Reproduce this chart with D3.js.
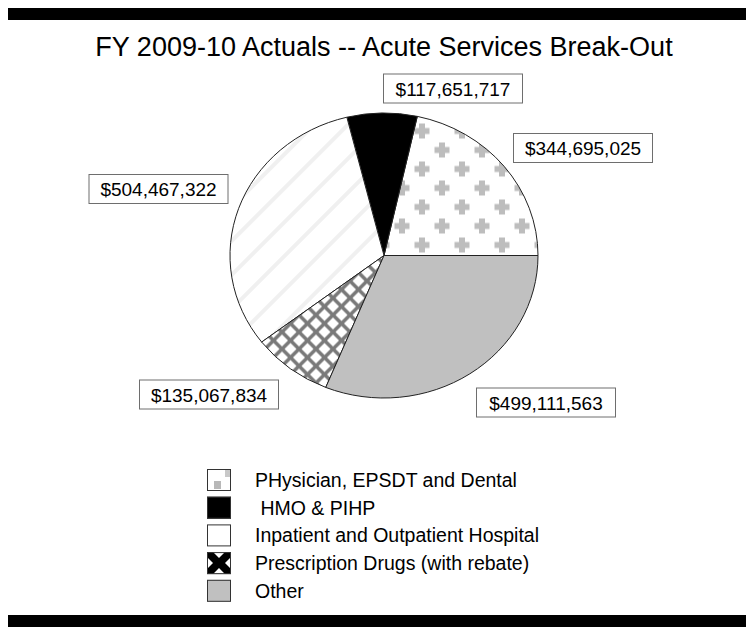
<!DOCTYPE html>
<html>
<head>
<meta charset="utf-8">
<script src="https://cdn.jsdelivr.net/npm/d3@7/dist/d3.min.js"></script>
<style>
  html, body { margin: 0; padding: 0; background: #fff; }
  svg { display: block; font-family: "Liberation Sans", Arial, sans-serif; }
</style>
</head>
<body>
<svg id="chart" width="754" height="628"></svg>
<script>
// Acute services spending, FY 2009-10 actuals
const categories = [
  "PHysician, EPSDT and Dental",
  " HMO & PIHP",
  "Inpatient and Outpatient Hospital",
  "Prescription Drugs (with rebate)",
  "Other"
];
const values = [344695025, 117651717, 504467322, 135067834, 499111563];
const title = "FY 2009-10 Actuals -- Acute Services Break-Out";

// Where each value box sits (box centre), same order as categories
const labelCentres = [[583, 148], [453, 88.5], [158.5, 189], [209, 394.5], [546, 402.5]];

const W = 754, H = 628;
const svg = d3.select("#chart");
const defs = svg.append("defs");

// pie geometry: a slightly flattened circle
const cx = 384, cy = 255.5, r = 154, ry = 142.5;
const yScale = ry / r;

// --- fill patterns ---
// crosses (physician), staggered rows
const cw = 40, ch = 38;
const pCross = defs.append("pattern").attr("id", "pat-cross")
  .attr("patternUnits", "userSpaceOnUse").attr("width", cw).attr("height", ch)
  .attr("x", 28).attr("y", -58)
  .attr("patternTransform", `scale(1,${1 / yScale})`);
pCross.append("rect").attr("width", cw).attr("height", ch).attr("fill", "#fff");
[[10, 9.5], [30, 28.5]].forEach(([x, y]) => {
  pCross.append("rect").attr("x", x - 7.5).attr("y", y - 3).attr("width", 15).attr("height", 6).attr("fill", "#bdbdbd");
  pCross.append("rect").attr("x", x - 3).attr("y", y - 7.5).attr("width", 6).attr("height", 15).attr("fill", "#bdbdbd");
});

// faint diagonal stripes (hospital)
const pStripe = defs.append("pattern").attr("id", "pat-stripe")
  .attr("patternUnits", "userSpaceOnUse").attr("width", 24).attr("height", 24)
  .attr("patternTransform", `scale(1,${1 / yScale}) rotate(45)`);
pStripe.append("rect").attr("width", 24).attr("height", 24).attr("fill", "#fff");
pStripe.append("rect").attr("x", 0).attr("width", 4).attr("height", 24).attr("fill", "#f0f0f0");

// diamond lattice (drugs)
const dt = 17;
const pDiamond = defs.append("pattern").attr("id", "pat-diamond")
  .attr("patternUnits", "userSpaceOnUse").attr("width", dt).attr("height", dt)
  .attr("patternTransform", `scale(1,${1 / yScale})`);
pDiamond.append("rect").attr("width", dt).attr("height", dt).attr("fill", "#7a7a7a");
const dHalf = 6;
[[dt / 2, dt / 2], [0, 0], [dt, 0], [0, dt], [dt, dt]].forEach(([x, y]) => {
  pDiamond.append("path")
    .attr("d", `M${x},${y - dHalf}L${x + dHalf},${y}L${x},${y + dHalf}L${x - dHalf},${y}Z`)
    .attr("fill", "#fff");
});

const fills = ["url(#pat-cross)", "#000", "url(#pat-stripe)", "url(#pat-diamond)", "#c0c0c0"];

// --- frame bars and title ---
svg.append("rect").attr("x", 8).attr("y", 8).attr("width", W - 16).attr("height", 12).attr("fill", "#000");
svg.append("rect").attr("x", 8).attr("y", 615).attr("width", W - 16).attr("height", 12).attr("fill", "#000");
svg.append("text").attr("x", cx).attr("y", 56).attr("text-anchor", "middle")
  .attr("font-size", 27).attr("fill", "#000").text(title);

// --- pie (counter-clockwise from 3 o'clock) ---
const pie = d3.pie().sort(null).value(d => d)
  .startAngle(Math.PI / 2).endAngle(Math.PI / 2 - 2 * Math.PI);
const arcs = pie(values);
const arc = d3.arc().innerRadius(0).outerRadius(r);

const g = svg.append("g").attr("transform", `translate(${cx},${cy}) scale(1,${yScale})`);
g.selectAll("path.slice").data(arcs).join("path")
  .attr("class", "slice")
  .attr("d", arc)
  .attr("fill", (d, i) => fills[i])
  .attr("stroke", "#222")
  .attr("stroke-width", 1)
  .attr("vector-effect", "non-scaling-stroke");

// --- value boxes ---
const fmt = d3.format("$,");
const bw = 139, bh = 29;
const lab = svg.append("g");
values.forEach((v, i) => {
  const [x, y] = labelCentres[i];
  lab.append("rect").attr("x", x - bw / 2).attr("y", y - bh / 2).attr("width", bw).attr("height", bh)
    .attr("fill", "#fff").attr("stroke", "#6e6e6e").attr("stroke-width", 1);
  lab.append("text").attr("x", x).attr("y", y + 7).attr("text-anchor", "middle")
    .attr("font-size", 19).attr("fill", "#000").text(fmt(v));
});

// --- legend ---
const leg = svg.append("g");
const lx = 207, ly = 469, step = 27.7, sw = 24, sh = 22;
categories.forEach((c, i) => {
  const y = ly + i * step;
  const row = leg.append("g");
  if (i === 0) {
    row.append("rect").attr("x", lx).attr("y", y).attr("width", sw).attr("height", sh).attr("fill", "#fff");
    row.append("rect").attr("x", lx + 7).attr("y", y + 12).attr("width", 7).attr("height", 8).attr("fill", "#b8b8b8");
    row.append("rect").attr("x", lx + 18).attr("y", y + 1).attr("width", 5).attr("height", 7).attr("fill", "#c8c8c8");
  } else if (i === 3) {
    defs.append("clipPath").attr("id", "legclip" + i)
      .append("rect").attr("x", lx).attr("y", y).attr("width", sw).attr("height", sh);
    row.append("rect").attr("x", lx).attr("y", y).attr("width", sw).attr("height", sh).attr("fill", "#000");
    const h = 6;
    [[lx + sw / 2, y], [lx + sw / 2, y + sh], [lx, y + sh / 2], [lx + sw, y + sh / 2]].forEach(([px, py]) => {
      row.append("path")
        .attr("d", `M${px},${py - h}L${px + h},${py}L${px},${py + h}L${px - h},${py}Z`)
        .attr("fill", "#fff")
        .attr("clip-path", "url(#legclip" + i + ")");
    });
  } else {
    row.append("rect").attr("x", lx).attr("y", y).attr("width", sw).attr("height", sh)
      .attr("fill", i === 1 ? "#000" : i === 4 ? "#c0c0c0" : "#fff");
  }
  row.append("rect").attr("x", lx + 0.5).attr("y", y + 0.5).attr("width", sw - 1).attr("height", sh - 1)
    .attr("fill", "none").attr("stroke", "#333").attr("stroke-width", 1);
  row.append("text").attr("x", 255).attr("y", y + 18)
    .attr("font-size", 19.5).attr("fill", "#000").style("white-space", "pre").text(c);
});
</script>
</body>
</html>
